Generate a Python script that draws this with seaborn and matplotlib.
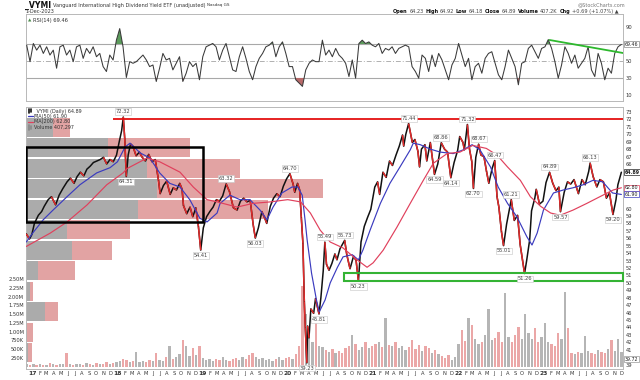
import numpy as np
import pandas as pd
import matplotlib
matplotlib.use("Agg")
import matplotlib.pyplot as plt
import matplotlib.dates as mdates
from matplotlib.patches import Rectangle
import seaborn as sns

sns.set_style("white")
plt.rcParams["font.family"] = ["DejaVu Sans"]

# ---------------- data ----------------
price_dates = [
    "2016-12-06", "2016-12-20", "2016-12-30", "2017-01-10", "2017-01-27", "2017-02-10", "2017-02-21",
    "2017-03-10", "2017-03-24", "2017-04-11", "2017-04-26", "2017-05-12", "2017-05-30", "2017-06-13",
    "2017-06-29", "2017-07-12", "2017-07-26", "2017-08-10", "2017-08-23", "2017-09-06", "2017-09-20",
    "2017-10-04", "2017-10-19", "2017-11-02", "2017-11-16", "2017-11-30", "2017-12-14", "2017-12-28",
    "2018-01-08", "2018-01-19", "2018-01-26", "2018-02-01", "2018-02-08", "2018-02-16", "2018-02-26",
    "2018-03-08", "2018-03-22", "2018-04-05", "2018-04-17", "2018-05-01", "2018-05-15", "2018-05-29",
    "2018-06-12", "2018-06-26", "2018-07-03", "2018-07-17", "2018-07-31", "2018-08-15", "2018-08-28",
    "2018-09-11", "2018-09-25", "2018-10-05", "2018-10-11", "2018-10-25", "2018-11-08", "2018-11-20",
    "2018-12-03", "2018-12-14", "2018-12-24", "2019-01-04", "2019-01-18", "2019-02-01", "2019-02-15",
    "2019-03-01", "2019-03-14", "2019-03-28", "2019-04-12", "2019-04-26", "2019-05-13", "2019-05-29",
    "2019-06-12", "2019-06-26", "2019-07-10", "2019-07-24", "2019-08-06", "2019-08-15", "2019-08-28",
    "2019-09-12", "2019-09-27", "2019-10-03", "2019-10-18", "2019-11-01", "2019-11-15", "2019-11-29",
    "2019-12-13", "2019-12-27", "2020-01-10", "2020-01-24", "2020-01-31", "2020-02-12", "2020-02-21",
    "2020-02-28", "2020-03-06", "2020-03-12", "2020-03-16", "2020-03-23", "2020-03-26", "2020-04-01",
    "2020-04-09", "2020-04-21", "2020-04-29", "2020-05-14", "2020-05-22", "2020-06-01", "2020-06-08",
    "2020-06-15", "2020-06-26", "2020-07-08", "2020-07-21", "2020-07-30", "2020-08-12", "2020-09-01",
    "2020-09-10", "2020-09-24", "2020-10-09", "2020-10-20", "2020-10-30", "2020-11-10", "2020-11-24",
    "2020-12-08", "2020-12-22", "2021-01-08", "2021-01-20", "2021-01-29", "2021-02-12", "2021-02-26",
    "2021-03-12", "2021-03-25", "2021-04-09", "2021-04-23", "2021-05-07", "2021-05-12", "2021-05-21",
    "2021-06-02", "2021-06-18", "2021-06-29", "2021-07-12", "2021-07-19", "2021-07-27", "2021-08-11",
    "2021-08-19", "2021-09-03", "2021-09-21", "2021-10-05", "2021-10-20", "2021-11-03", "2021-11-16",
    "2021-11-30", "2021-12-14", "2021-12-29", "2022-01-07", "2022-01-21", "2022-01-27", "2022-02-09",
    "2022-02-18", "2022-02-28", "2022-03-07", "2022-03-17", "2022-03-29", "2022-04-08", "2022-04-21",
    "2022-05-02", "2022-05-12", "2022-05-26", "2022-06-06", "2022-06-16", "2022-06-24", "2022-07-05",
    "2022-07-14", "2022-07-27", "2022-08-16", "2022-08-29", "2022-09-12", "2022-09-23", "2022-10-12",
    "2022-10-21", "2022-11-03", "2022-11-11", "2022-11-25", "2022-12-01", "2022-12-15", "2022-12-30",
    "2023-01-12", "2023-01-27", "2023-02-10", "2023-02-24", "2023-03-08", "2023-03-15", "2023-03-31",
    "2023-04-14", "2023-04-28", "2023-05-12", "2023-05-31", "2023-06-15", "2023-06-29", "2023-07-14",
    "2023-07-20", "2023-08-02", "2023-08-18", "2023-08-31", "2023-09-15", "2023-09-28", "2023-10-11",
    "2023-10-26", "2023-11-08", "2023-11-16", "2023-12-01",
]
price_close = [
    56.6, 55.9, 56.5, 58.0, 59.1, 59.6, 60.3,
    61.2, 61.6, 60.5, 61.8, 62.7, 63.6, 64.1,
    63.4, 64.3, 64.9, 64.4, 65.3, 65.7, 66.2,
    66.4, 66.6, 66.9, 66.0, 66.6, 66.3, 67.2,
    68.9, 70.5, 72.32, 69.5, 64.31, 67.2, 68.7,
    68.4, 67.1, 67.6, 66.9, 66.4, 67.3, 66.3,
    66.6, 63.8, 62.0, 63.1, 63.7, 61.9, 62.8,
    62.5, 63.4, 62.6, 60.4, 59.3, 60.2, 58.9,
    60.1, 57.6, 54.41, 57.4, 58.9, 59.6, 60.2,
    61.2, 61.0, 61.7, 63.32, 62.3, 60.1, 59.8,
    61.0, 61.4, 60.9, 61.1, 57.8, 56.03, 57.4,
    59.6, 58.5, 58.0, 60.3, 61.4, 62.0, 61.6,
    63.0, 64.0, 64.70, 63.3, 62.2, 63.4, 62.5,
    58.8, 55.3, 47.5, 44.0, 39.23, 44.2, 42.6,
    46.5, 45.9, 47.9, 45.81, 48.0, 51.6, 55.49,
    52.5, 51.7, 52.6, 53.9, 53.1, 54.6, 55.73,
    53.8, 51.9, 53.6, 53.0, 50.23, 55.5, 57.6,
    58.8, 59.9, 62.9, 63.6, 61.9, 64.9, 64.2,
    66.4, 65.8, 67.2, 68.4, 69.9, 68.4, 70.0,
    71.44, 68.9, 69.3, 67.7, 65.6, 68.0, 68.6,
    66.4, 68.9, 64.59, 66.0, 68.86, 68.0, 67.6,
    64.14, 66.2, 67.8, 69.7, 68.9, 67.9, 71.32,
    68.0, 66.3, 62.70, 66.9, 68.67, 67.2, 67.0,
    65.0, 63.4, 65.4, 66.47, 61.6, 60.2, 56.9,
    55.01, 57.9, 61.21, 58.4, 59.1, 55.2, 51.26,
    53.0, 55.8, 59.7, 61.4, 62.6, 60.6, 61.0,
    63.5, 64.89, 63.4, 62.4, 62.9, 59.57, 62.2,
    63.6, 63.3, 63.9, 62.0, 63.9, 63.2, 65.0,
    66.13, 64.3, 62.9, 63.9, 63.6, 61.4, 62.1,
    59.20, 61.2, 63.2, 64.89,
]

ma50_dates = [
    "2016-12-06", "2017-01-05", "2017-02-17", "2017-03-31", "2017-05-30", "2017-07-24", "2017-10-04",
    "2017-11-30", "2018-01-01", "2018-02-03", "2018-02-24", "2018-04-08", "2018-05-20", "2018-07-01",
    "2018-08-13", "2018-09-26", "2018-11-07", "2018-12-20", "2019-01-20", "2019-03-04", "2019-03-17",
    "2019-04-28", "2019-06-10", "2019-07-23", "2019-09-04", "2019-10-04", "2019-10-30", "2019-12-07",
    "2020-01-19", "2020-02-13", "2020-03-03", "2020-03-15", "2020-03-24", "2020-04-12", "2020-05-03",
    "2020-05-15", "2020-06-09", "2020-07-01", "2020-08-01", "2020-08-25", "2020-10-03", "2020-10-30",
    "2020-11-18", "2020-12-19", "2021-02-01", "2021-03-14", "2021-04-26", "2021-06-09", "2021-06-22",
    "2021-07-22", "2021-09-03", "2021-10-16", "2021-12-10", "2022-01-22", "2022-03-01", "2022-04-04",
    "2022-05-19", "2022-06-21", "2022-07-31", "2022-09-09", "2022-10-22", "2022-11-13", "2022-12-05",
    "2023-01-01", "2023-02-13", "2023-03-27", "2023-05-08", "2023-06-20", "2023-08-01", "2023-09-12",
    "2023-10-24", "2023-12-01",
]
ma50_vals = [
    55.5, 56.8, 58.5, 59.8, 61.6, 63.2, 64.8,
    65.5, 66.3, 68.3, 68.8, 67.5, 66.8, 64.8,
    63.4, 62.9, 61.2, 58.7, 58.2, 59.4, 60.7,
    61.8, 61.2, 61.2, 59.8, 58.5, 60.2, 62.1,
    62.9, 62.9, 61.8, 58.5, 55.8, 51.3, 47.7,
    46.1, 47.7, 50.0, 52.1, 53.5, 53.8, 53.1,
    54.4, 57.1, 60.7, 63.4, 65.6, 67.9, 68.8,
    68.6, 68.0, 67.6, 67.4, 67.9, 68.6, 67.9,
    65.6, 62.9, 60.7, 58.9, 56.2, 55.1, 56.7,
    59.8, 62.1, 62.5, 62.8, 63.2, 63.8, 63.6,
    62.1, 61.90,
]

ma200_dates = [
    "2016-12-06", "2017-03-19", "2017-05-30", "2017-08-24", "2017-11-16", "2018-01-25", "2018-02-12",
    "2018-05-08", "2018-07-01", "2018-09-26", "2018-11-22", "2019-01-20", "2019-03-04", "2019-05-29",
    "2019-08-05", "2019-10-19", "2020-01-01", "2020-02-25", "2020-04-07", "2020-05-19", "2020-07-01",
    "2020-08-25", "2020-10-24", "2020-12-06", "2021-01-01", "2021-02-13", "2021-04-13", "2021-06-09",
    "2021-08-04", "2021-09-16", "2021-11-14", "2022-01-08", "2022-03-04", "2022-05-01", "2022-06-16",
    "2022-07-31", "2022-09-24", "2022-11-06", "2022-12-20", "2023-02-01", "2023-03-14", "2023-05-08",
    "2023-07-06", "2023-08-31", "2023-10-27", "2023-12-01",
]
ma200_vals = [
    54.9, 56.7, 58.2, 60.5, 63.2, 64.8, 65.4,
    66.8, 66.3, 64.9, 62.9, 61.2, 60.9, 60.2,
    60.7, 60.9, 61.2, 60.9, 59.4, 57.1, 55.5,
    54.7, 53.1, 52.1, 52.7, 54.4, 57.5, 60.7,
    63.8, 66.1, 67.4, 67.6, 68.5, 68.1, 67.2,
    65.6, 63.8, 61.6, 60.3, 59.4, 59.1, 59.8,
    60.7, 61.6, 62.5, 62.80,
]

# RSI(14) and volume, read on an even grid of 180 points
grid_start, grid_end = "2016-12-08", "2023-12-01"
rsi_vals = [
    68.6, 49.2, 70.6, 62.8, 68.6, 58.9, 66.7, 57.0, 62.8, 41.5, 66.7, 68.6, 57.0, 62.8, 49.2,
    66.7, 68.6, 53.1, 64.8, 58.9, 66.7, 55.0, 58.9, 43.4, 37.6, 57.0, 51.2, 74.5, 88.1, 66.7,
    30.6, 49.2, 47.3, 49.2, 53.1, 57.0, 51.2, 43.4, 45.3, 25.9, 41.5, 58.9, 51.2, 53.1, 39.5,
    47.3, 55.0, 25.9, 35.6, 49.2, 43.4, 47.3, 27.9, 55.0, 66.7, 68.6, 70.6, 66.7, 51.2, 62.8,
    70.6, 55.0, 39.5, 37.6, 55.0, 66.7, 53.1, 37.6, 27.9, 43.4, 53.1, 58.9, 66.7, 68.6, 72.5,
    55.0, 66.7, 72.5, 58.9, 43.4, 43.4, 27.9, 24.0, 20.1, 39.5, 47.3, 51.2, 49.2,
    49.2, 74.5, 57.0, 62.8, 55.0, 64.8, 57.0, 53.1, 47.3, 31.7, 51.2, 29.8, 70.6, 74.5, 70.6,
    72.5, 68.6, 66.7, 70.6, 58.9, 64.8, 62.8, 66.7, 58.9, 64.8, 66.7, 68.6, 66.7, 43.4, 37.6,
    29.8, 57.0, 53.1, 37.6, 57.0, 43.4, 58.9, 51.2, 39.5, 27.9, 45.3, 53.1, 70.6, 57.0, 43.4,
    53.1, 27.9, 43.4, 47.3, 35.6, 53.1, 58.9, 60.9, 47.3, 33.7, 27.9, 43.4, 62.8, 53.1, 43.4,
    22.0, 47.3, 49.2, 64.8, 68.6, 60.9, 53.1, 64.8, 66.7, 75.2, 64.8, 49.2, 29.8, 45.3, 66.7,
    58.9, 47.3, 57.0, 41.5, 47.3, 53.1, 66.7, 39.5, 31.7, 58.9, 47.3, 27.9, 41.5, 35.6, 58.9,
    66.7, 69.46,
]
volume_k = [
    60, 45, 70, 50, 80, 55, 40, 90, 65, 50, 75, 60, 400, 70, 55, 85, 60, 45, 110, 70, 55, 90, 65, 80,
    120, 75, 95, 140,
    160, 220, 180, 130, 150, 420, 140, 170, 120, 190, 160, 380, 200, 150, 260, 600, 230, 280, 350,
    760, 580, 300, 520, 340, 600,
    250, 180, 210, 160, 230, 190, 260, 200, 150, 220, 240, 180, 270, 210, 320, 390, 280, 220, 250,
    190, 230, 170, 210, 260, 200, 240,
    280, 230, 350, 600, 2300, 1500, 900, 700, 1400, 600,
    550, 480, 420, 500, 380, 450, 400, 520, 600, 900, 650, 480, 560, 700, 520, 600,
    650, 700, 550, 1400, 620, 580, 700, 520, 600, 480, 550, 760, 500, 620, 450, 580, 520, 400, 480,
    350, 300, 250, 320, 200, 280,
    650, 1040, 720, 1400, 1200, 800, 650, 700, 900, 1660, 750, 820, 1000, 700, 2100, 850, 700, 900,
    1120, 800, 1500, 950, 780, 1100, 700,
    850, 1240, 700, 650, 600, 950, 800, 2130, 1100, 400, 350, 420, 380, 870, 450, 400, 350, 480, 420,
    390, 500, 760, 450, 800, 420,
]

# volume by price: 12 zones from the period low to the period high (millions of shares)
vbp_low, vbp_high = 39.23, 72.32
vbp_up = [1.0, 0.5, 9.5, 2.0, 6.0, 23.0, 20.5, 56.0, 65.5, 60.5, 41.0, 13.5]
vbp_down = [2.0, 3.0, 6.5, 1.5, 18.5, 20.0, 31.5, 65.0, 83.0, 46.5, 41.0, 8.5]

ann_dates = ["2018-01-26", "2018-02-08", "2018-12-24", "2019-04-12", "2019-08-15", "2020-01-10",
             "2020-03-23", "2020-05-14", "2020-06-08", "2020-09-01", "2020-10-30", "2021-06-02",
             "2021-09-21", "2021-10-20", "2021-11-30", "2022-02-09", "2022-03-07", "2022-03-29",
             "2022-06-06", "2022-07-14", "2022-08-16", "2022-10-12", "2023-01-27", "2023-03-15",
             "2023-07-20", "2023-10-26"]
ann_vals = [72.32, 64.31, 54.41, 63.32, 56.03, 64.70, 39.23, 45.81, 55.49, 55.73, 50.23, 71.44,
            64.59, 68.86, 64.14, 71.32, 62.70, 68.67, 66.47, 55.01, 61.21, 51.26, 64.89, 59.57,
            66.13, 59.20]
ann_side = ["a", "b", "b", "a", "b", "a", "b", "b", "a", "a", "b", "a", "b", "a", "b", "a", "b",
            "a", "a", "b", "a", "b", "a", "b", "a", "b"]

month_letters = ["J", "F", "M", "A", "M", "J", "J", "A", "S", "O", "N", "D"]
price_ticks = [39] + list(range(41, 61)) + list(range(66, 74))
vol_ticks = [250e3, 500e3, 750e3, 1.0e6, 1.25e6, 1.5e6, 1.75e6, 2.0e6, 2.25e6, 2.5e6]
vol_tick_labels = ["250K", "500K", "750K", "1.00M", "1.25M", "1.50M", "1.75M", "2.00M", "2.25M", "2.50M"]
rsi_ticks = [10, 30, 50, 90]

last_close, last_ma50, last_ma200, last_rsi, side_box = 64.89, 61.90, 62.80, 69.46, 39.72

# annotation shapes
resist_level, resist_start = 72.0, "2017-12-15"
box_black = ("2016-12-07", "2019-01-01", 58.2, 68.3)
box_green = ("2020-08-27", "2023-12-08", 50.25, 51.33)
rsi_trend = (("2023-01-27", 74.7), ("2023-12-08", 59.4))

# ---------------- figure ----------------
W_PX, H_PX = 640, 380
fig = plt.figure(figsize=(6.4, 3.8), dpi=100)
L, Wd = 26 / W_PX, 597 / W_PX
ax_r = fig.add_axes([L, 1 - 101 / H_PX, Wd, 87 / H_PX], label="rsi")
main_rect = [L, 1 - 369 / H_PX, Wd, 262 / H_PX]
ax_vbp = fig.add_axes(main_rect, label="vbp")
ax_v = fig.add_axes(main_rect, label="vol")
ax_p = fig.add_axes(main_rect, label="price")
ax_vbp.set_zorder(1)
ax_v.set_zorder(2)
ax_p.set_zorder(3)
ax_v.patch.set_visible(False)
ax_p.patch.set_visible(False)

xlim = (pd.Timestamp("2016-12-05"), pd.Timestamp("2023-12-08"))
PLO, PHI = 38.41, 73.67
FS = 3.7
TXT = "#333333"
SPINE = "#b8b8b8"

pd_dates = pd.to_datetime(price_dates)
grid = pd.date_range(grid_start, grid_end, periods=len(rsi_vals))

# ---- volume by price ----
edges = np.linspace(vbp_low, vbp_high, len(vbp_up) + 1)
centers = (edges[:-1] + edges[1:]) / 2
zone_h = (vbp_high - vbp_low) / len(vbp_up) * 0.93
ax_vbp.barh(centers, vbp_up, height=zone_h, color="#ababab", linewidth=0)
ax_vbp.barh(centers, vbp_down, height=zone_h, left=vbp_up, color="#e2a3a3", linewidth=0)
ax_vbp.set_xlim(0, 298.5)
ax_vbp.set_ylim(PLO, PHI)
ax_vbp.axis("off")

# ---- volume bars ----
vol = np.array(volume_k) * 1000
rsi_arr = np.array(rsi_vals)
up = np.concatenate([[True], np.diff(rsi_arr) >= 0])
vcolors = np.where(up, "#9c9c9c", "#e58a8a")
ax_v.bar(grid, vol, width=10, color=vcolors, alpha=0.75, linewidth=0)
ax_v.set_xlim(*xlim)
ax_v.set_ylim(-70e3, 7.43e6)
ax_v.yaxis.tick_left()
ax_v.set_yticks(vol_ticks)
ax_v.set_yticklabels(vol_tick_labels)
ax_v.tick_params(axis="y", labelsize=FS, length=0, pad=1.5, colors=TXT)
ax_v.set_xticks([])
for s in ax_v.spines.values():
    s.set_visible(False)

# ---- price ----
sns.lineplot(x=pd_dates, y=price_close, ax=ax_p, color="#111111", linewidth=1.1, legend=False,
             zorder=4)
pc = np.array(price_close)
for i in range(1, len(pc)):
    if pc[i] < pc[i - 1]:
        ax_p.plot([pd_dates[i - 1], pd_dates[i]], [pc[i - 1], pc[i]], color="#e22a2a",
                  linewidth=1.1, zorder=4.5, solid_capstyle="butt")
sns.lineplot(x=pd.to_datetime(ma50_dates), y=ma50_vals, ax=ax_p, color="#3b3bbf", linewidth=0.85,
             legend=False, zorder=5)
sns.lineplot(x=pd.to_datetime(ma200_dates), y=ma200_vals, ax=ax_p, color="#e0405c", linewidth=0.85,
             legend=False, zorder=5)

ax_p.set_xlim(*xlim)
ax_p.set_ylim(PLO, PHI)
ax_p.set_xlabel("")
ax_p.set_ylabel("")

# resistance line, boxes
ax_p.hlines(resist_level, pd.Timestamp(resist_start), xlim[1], color="#e41010", linewidth=1.3, zorder=6)
bx0, bx1, by0, by1 = box_black
x0 = mdates.date2num(pd.Timestamp(bx0))
x1 = mdates.date2num(pd.Timestamp(bx1))
ax_p.add_patch(Rectangle((x0, by0), x1 - x0, by1 - by0, fill=False, edgecolor="black", linewidth=1.8,
                         zorder=6))
gx0, gx1, gy0, gy1 = box_green
x0 = mdates.date2num(pd.Timestamp(gx0))
x1 = mdates.date2num(pd.Timestamp(gx1))
ax_p.add_patch(Rectangle((x0, gy0), x1 - x0, gy1 - gy0, fill=False, edgecolor="#34b334", linewidth=1.5,
                         zorder=6, clip_on=False))

# high/low labels
for d, v, s in zip(ann_dates, ann_vals, ann_side):
    above = s == "a"
    ax_p.annotate(f"{v:.2f}", (mdates.date2num(pd.Timestamp(d)), v),
                  xytext=(0, 2.0 if above else -2.0), textcoords="offset points",
                  ha="center", va="bottom" if above else "top", fontsize=FS, color="#444444",
                  bbox=dict(boxstyle="square,pad=0.15", fc="white", ec="#c4c4c4", lw=0.4),
                  zorder=7, annotation_clip=False)

# axis ticks
ax_p.yaxis.tick_right()
ax_p.set_yticks(price_ticks)
ax_p.set_yticklabels([str(t) for t in price_ticks])
ax_p.tick_params(axis="y", labelsize=FS, length=0, pad=2, colors=TXT)
mstarts = pd.date_range("2017-01-01", "2023-12-01", freq="MS")
ax_p.set_xticks(mstarts)
labels = [f"{d.year % 100}" if d.month == 1 else month_letters[d.month - 1] for d in mstarts]
ax_p.set_xticklabels(labels)
ax_p.tick_params(axis="x", labelsize=FS, length=0, pad=1.5, colors=TXT)
for lab, d in zip(ax_p.get_xticklabels(), mstarts):
    if d.month == 1:
        lab.set_fontweight("bold")
        lab.set_fontsize(FS + 0.6)
for s in ax_p.spines.values():
    s.set_color(SPINE)
    s.set_linewidth(0.7)

# right-side value boxes
for val, ec, fw in [(last_close, "#222222", "bold"), (last_ma200, "#e0405c", "normal"),
                    (last_ma50, "#3b3bbf", "normal"), (side_box, "#999999", "normal")]:
    ax_p.annotate(f"{val:.2f}", (1.0, val), xycoords=("axes fraction", "data"), xytext=(1.2, 0),
                  textcoords="offset points", ha="left", va="center", fontsize=FS - 0.3,
                  color="#222222", fontweight=fw,
                  bbox=dict(boxstyle="square,pad=0.1", fc="white", ec=ec, lw=0.5),
                  annotation_clip=False, zorder=8)

# legend
leg_items = [("_VYMI (Daily) 64.89", "#111111", "bar"), ("MA(50) 61.90", "#3b3bbf", "line"),
             ("MA(200) 62.80", "#e0405c", "line"), ("Volume 407,297", "#888888", "bar")]
for k, (txt, col, kind) in enumerate(leg_items):
    yy = 0.985 - k * 0.021
    if kind == "line":
        ax_p.plot([0.003, 0.011], [yy, yy], transform=ax_p.transAxes, color=col, linewidth=0.9,
                  zorder=8, clip_on=False)
    else:
        ax_p.plot([0.005, 0.005], [yy - 0.008, yy + 0.008], transform=ax_p.transAxes, color=col,
                  linewidth=1.2, zorder=8)
        ax_p.plot([0.009, 0.009], [yy - 0.005, yy + 0.006], transform=ax_p.transAxes, color=col,
                  linewidth=1.2, zorder=8)
    ax_p.text(0.013, yy, txt, transform=ax_p.transAxes, fontsize=FS - 0.2, color=TXT, va="center",
              ha="left", zorder=8)

# ---- RSI ----
sns.lineplot(x=grid, y=rsi_vals, ax=ax_r, color="#3a3a3a", linewidth=0.75, legend=False, zorder=4)
ax_r.fill_between(grid, rsi_arr, 70, where=rsi_arr > 70, interpolate=True, color="#5c9c5c",
                  linewidth=0, zorder=3)
ax_r.fill_between(grid, rsi_arr, 30, where=rsi_arr < 30, interpolate=True, color="#b86a6a",
                  linewidth=0, zorder=3)
ax_r.axhline(70, color="#a8a8a8", linewidth=0.8, zorder=2)
ax_r.axhline(30, color="#a8a8a8", linewidth=0.8, zorder=2)
ax_r.axhline(50, color="#b0b0b0", linewidth=0.7, linestyle=(0, (5, 2, 1, 2)), zorder=2)
(t0, r0), (t1, r1) = rsi_trend
ax_r.plot([pd.Timestamp(t0), pd.Timestamp(t1)], [r0, r1], color="#2db82d", linewidth=1.3, zorder=5)
ax_r.set_xlim(*xlim)
ax_r.set_ylim(2.9, 105.3)
ax_r.set_xticks([])
ax_r.set_xlabel("")
ax_r.set_ylabel("")
ax_r.yaxis.tick_right()
ax_r.set_yticks(rsi_ticks)
ax_r.set_yticklabels([str(t) for t in rsi_ticks])
ax_r.tick_params(axis="y", labelsize=FS, length=0, pad=2, colors=TXT)
for s in ax_r.spines.values():
    s.set_color(SPINE)
    s.set_linewidth(0.7)
ax_r.annotate(f"{last_rsi:.2f}", (1.0, last_rsi), xycoords=("axes fraction", "data"), xytext=(1.2, 0),
              textcoords="offset points", ha="left", va="center", fontsize=FS - 0.3, color="#222222",
              bbox=dict(boxstyle="square,pad=0.1", fc="white", ec="#888888", lw=0.5),
              annotation_clip=False)
ax_r.text(0.003, 0.93, "\u25B2", transform=ax_r.transAxes, fontsize=FS - 0.5, color="#4a8a4a",
          va="center", ha="left")
ax_r.text(0.011, 0.93, f"RSI(14) {last_rsi:.2f}", transform=ax_r.transAxes, fontsize=FS,
          color=TXT, va="center", ha="left")

# ---- header texts ----
renderer = fig.canvas.get_renderer()


def seq_text(x_px, y_px, pieces, gap=1.6):
    x = x_px
    for s, kw in pieces:
        t = fig.text(x / W_PX, 1 - y_px / H_PX, s, va="center", ha="left", **kw)
        x += t.get_window_extent(renderer=renderer).width + gap


seq_text(25, 5, [("_VYMI", dict(fontsize=5.6, fontweight="bold", color="#111111")),
                 ("Vanguard International High Dividend Yield ETF (unadjusted)",
                  dict(fontsize=3.6, color=TXT)),
                 ("Nasdaq GS", dict(fontsize=3.0, color=TXT))])
fig.text(25 / W_PX, 1 - 11.5 / H_PX, "1-Dec-2023", fontsize=3.6, color=TXT, va="center", ha="left")
fig.text(625 / W_PX, 1 - 4.5 / H_PX, "@StockCharts.com", fontsize=3.6, color="#777777", va="center",
         ha="right")
b = dict(fontsize=3.6, fontweight="bold", color="#111111")
n = dict(fontsize=3.6, color="#444444")
seq_text(393, 11.5, [("Open", b), ("64.23", n), ("High", b), ("64.92", n), ("Low", b), ("64.18", n),
                     ("Close", b), ("64.89", n), ("Volume", b), ("407.2K", n), ("Chg", b),
                     ("+0.69 (+1.07%) \u25B2", n)])

fig.savefig("out.png", dpi=100)
